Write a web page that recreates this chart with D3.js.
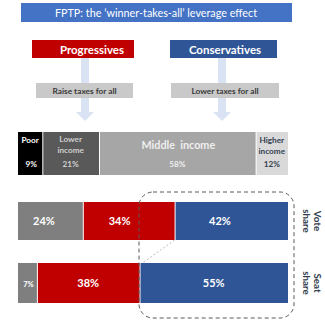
<!DOCTYPE html>
<html><head><meta charset="utf-8">
<script src="https://cdn.jsdelivr.net/npm/d3@7"></script>
<style>body{margin:0;background:#fff}svg{display:block;font-family:Lato,"Open Sans",sans-serif}</style>
</head><body>
<script>
const title = "FPTP: the \u2018winner-takes-all\u2019 leverage effect";
const parties = ["Progressives", "Conservatives"];
const policies = ["Raise taxes for all", "Lower taxes for all"];
const incomeGroups = [["Poor"], ["Lower", "income"], ["Middle  income"], ["Higher", "income"]];
const incomeShares = [9, 21, 58, 12];
const shareRows = ["Vote share", "Seat share"];
const voteShares = [24, 34, 42];
const seatShares = [7, 38, 55];

const W = 325, H = 325;
const svg = d3.select("body").append("svg").attr("width", W).attr("height", H);
const x = d3.scaleLinear().domain([0, 100]).range([18, 288]);

// title bar
svg.append("rect").attr("x", 21).attr("y", 3).attr("width", 271).attr("height", 19).attr("fill", "#4472c4");
svg.append("text").attr("x", 156).attr("y", 16.5).attr("text-anchor", "middle").attr("fill", "#fff")
  .attr("font-size", 10.8).text(title);

// party columns
const partyColors = ["#c00000", "#2f5597"];
const cols = svg.selectAll("g.party").data(parties).join("g").attr("class", "party");
const colCenters = [85, 222];
cols.append("rect").attr("x", (d, i) => colCenters[i] - 4).attr("y", 58).attr("width", 8).attr("height", 55).attr("fill", "#dae3f3");
cols.append("path").attr("d", (d, i) => {
  const c = colCenters[i];
  return `M${c - 9},112 L${c + 9},112 L${c},121 Z`;
}).attr("fill", "#dae3f3");
const boxX = [[32, 134], [170, 277]];
cols.append("rect").attr("x", (d, i) => boxX[i][0]).attr("y", 40).attr("width", (d, i) => boxX[i][1] - boxX[i][0])
  .attr("height", 18).attr("fill", (d, i) => partyColors[i]);
cols.append("text").attr("x", (d, i) => i === 0 ? 92 : 225).attr("y", 53.5).attr("text-anchor", "middle")
  .attr("fill", "#fff").attr("font-size", 11.5).attr("font-weight", 700).text(d => d);
const polX = [[36, 133], [171, 279]];
cols.append("rect").attr("x", (d, i) => polX[i][0]).attr("y", 83).attr("width", (d, i) => polX[i][1] - polX[i][0])
  .attr("height", 15).attr("fill", "#c9c9c9");
cols.append("text").attr("x", (d, i) => (polX[i][0] + polX[i][1]) / 2).attr("y", 93.8).attr("text-anchor", "middle")
  .attr("fill", "#3a3a3a").attr("font-size", 8.3).attr("font-weight", 700).text((d, i) => policies[i]);

// income bar
function stack(vals) {
  let acc = 0;
  return vals.map(v => { const s = acc; acc += v; return { s, e: acc, v }; });
}
const incFill = ["#000000", "#595959", "#a6a6a6", "#d9d9d9"];
const incText = ["#ffffff", "#d0d0d0", "#eeeeee", "#333f50"];
const inc = stack(incomeShares);
const ig = svg.selectAll("g.inc").data(inc).join("g").attr("class", "inc");
ig.append("rect").attr("x", d => x(d.s) + (d.s > 0 ? 1 : 0)).attr("y", 132)
  .attr("width", d => x(d.e) - x(d.s) - (d.s > 0 ? 1 : 0)).attr("height", 43).attr("fill", (d, i) => incFill[i]);
ig.each(function (d, i) {
  const g = d3.select(this);
  const cx = (x(d.s) + x(d.e)) / 2;
  const lines = incomeGroups[i];
  if (i === 2) {
    g.append("text").attr("x", cx + 1).attr("y", 149).attr("text-anchor", "middle").attr("fill", incText[i])
      .attr("font-size", 10.8).attr("font-weight", 700).style("white-space", "pre").text(lines[0]);
  } else {
    lines.forEach((t, k) => {
      g.append("text").attr("x", cx).attr("y", (i === 0 ? 143 : 141.5 + (i === 3 ? 1.5 : 0)) + k * 11)
        .attr("text-anchor", "middle").attr("fill", incText[i]).attr("font-size", 8.2).attr("font-weight", 700).text(t);
    });
  }
  g.append("text").attr("x", cx + (i === 0 ? 1 : 0)).attr("y", 167).attr("text-anchor", "middle").attr("fill", incText[i])
    .attr("font-size", 8.2).attr("font-weight", 700).text(d.v + "%");
});

// vote and seat bars
const shareFill = ["#7f7f7f", "#c00000", "#2f5597"];
const rowsData = [{ vals: voteShares, y: 202, h: 38, frac: 0.4 }, { vals: seatShares, y: 263, h: 40, frac: 0.5 }];
rowsData.forEach((r, ri) => {
  const st = stack(r.vals);
  const g = svg.append("g");
  g.selectAll("rect").data(st).join("rect")
    .attr("x", d => x(d.s) + (d.s > 0 ? 1 : 0)).attr("y", r.y)
    .attr("width", d => x(d.e) - x(d.s) - (d.s > 0 ? 1 : 0)).attr("height", r.h)
    .attr("fill", (d, i) => shareFill[i]);
  g.selectAll("text").data(st).join("text")
    .attr("x", d => x(d.s) + (x(d.e) - x(d.s)) * r.frac + (d.v < 10 ? 1 : 0))
    .attr("y", r.y + r.h / 2 + 4)
    .attr("text-anchor", "middle").attr("fill", "#ffffff")
    .attr("font-size", d => d.v < 10 ? 7.5 : 11).attr("font-weight", 700).text(d => d.v + "%");
  const words = shareRows[ri].split(" ");
  const cy = r.y + r.h / 2;
  const tg = svg.append("g").attr("transform", `translate(310,${cy}) rotate(90)`);
  words.forEach((w, k) => {
    tg.append("text").attr("x", 0).attr("y", -4 + k * 11).attr("text-anchor", "middle")
      .attr("fill", "#333f50").attr("font-size", 9.8).attr("font-weight", 700).text(w);
  });
});

// dashed connector between red ends
const vEnd = x(voteShares[0] + voteShares[1]), sEnd = x(seatShares[0] + seatShares[1]);
svg.append("line").attr("x1", vEnd).attr("y1", 240).attr("x2", sEnd + 3).attr("y2", 263)
  .attr("stroke", "#bfbfbf").attr("stroke-width", 1).attr("stroke-dasharray", "2,2");
// dashed rounded box
svg.append("rect").attr("x", 139).attr("y", 192).attr("width", 155).attr("height", 126).attr("rx", 14)
  .attr("fill", "none").attr("stroke", "#595959").attr("stroke-width", 1).attr("stroke-dasharray", "4,3");
</script>
</body></html>
